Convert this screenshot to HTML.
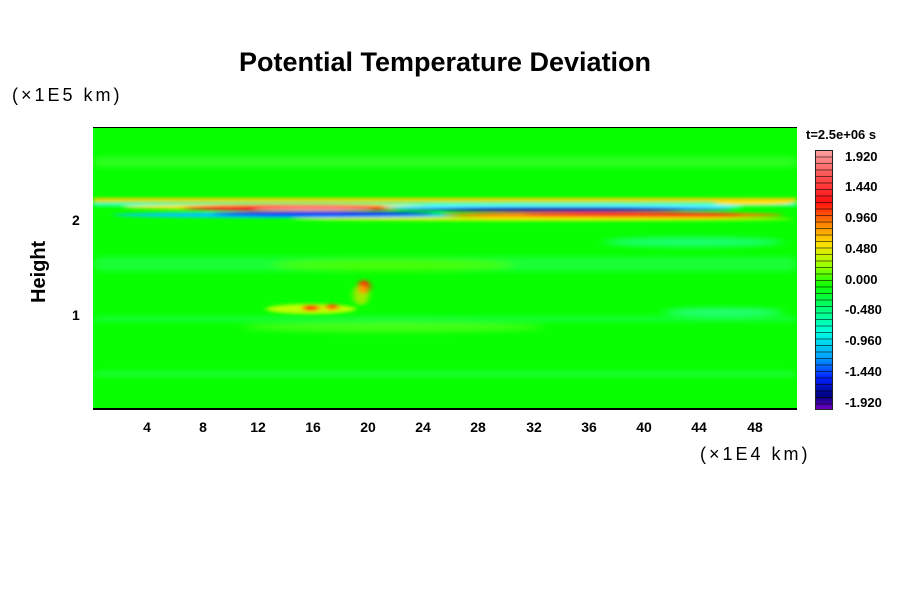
<!DOCTYPE html>
<html><head><style>
body{margin:0;background:#fff;width:900px;height:600px;position:relative;overflow:hidden;font-family:"Liberation Sans",Arial,sans-serif}
.t{position:absolute;font-weight:bold;color:#000}
.cb{position:absolute;left:815px;top:150px;width:18px;height:260px;border:1px solid #222;box-sizing:border-box;
background:repeating-linear-gradient(to bottom,transparent 0,transparent 5.5px,rgba(0,0,0,.55) 5.5px,rgba(0,0,0,.55) 6.5px),
linear-gradient(to bottom,#f9a0a0 0%,#ff4040 12%,#ff1010 20%,#ff8000 28%,#ffe000 36%,#a0ff00 44%,#10ff00 52%,#00ff80 62%,#00ffe0 70%,#00a0ff 80%,#0020ff 88%,#000080 95%,#7000c0 100%)}
.cl{position:absolute;left:845px;font-size:13px;font-weight:bold}
.xl{position:absolute;top:419px;font-size:14px;font-weight:bold;width:30px;margin-left:-15px;text-align:center}
.u{position:absolute;font-size:18px;letter-spacing:3px;color:#000}
</style></head><body>
<div class="t" style="left:0;width:890px;text-align:center;top:47px;font-size:27px">Potential Temperature Deviation</div>
<div class="u" style="left:12px;top:85px">(×1E5 km)</div>
<div class="u" style="left:700px;top:444px">(×1E4 km)</div>
<div class="t" style="font-size:20px;transform:rotate(-90deg);transform-origin:left top;top:303px;left:28px">Height</div>
<div class="t" style="left:72px;top:212px;font-size:14px">2</div>
<div class="t" style="left:72px;top:307px;font-size:14px">1</div>
<svg style="position:absolute;left:93px;top:127px" width="704" height="283">
<defs><filter id="b" x="-20%" y="-200%" width="140%" height="500%"><feGaussianBlur stdDeviation="3 1.5"/></filter>
<filter id="b2"><feGaussianBlur stdDeviation="6 3"/></filter></defs>
<rect width="704" height="283" fill="#08ff00"/>
<g filter="url(#b2)" opacity=".7">
<rect x="0" y="30" width="704" height="10" fill="#40ff30"/>
<rect x="0" y="130" width="704" height="14" fill="#20ff50"/>
<ellipse cx="300" cy="138" rx="120" ry="6" fill="#60ff10"/>
<ellipse cx="600" cy="115" rx="90" ry="5" fill="#20ffa0"/>
<ellipse cx="630" cy="185" rx="60" ry="4" fill="#30ffb0"/>
<rect x="0" y="190" width="704" height="4" fill="#20ff70"/>
<ellipse cx="300" cy="200" rx="150" ry="5" fill="#60ff20"/>
<rect x="0" y="245" width="704" height="4" fill="#30ff70"/>
</g>
<g filter="url(#b)">
<rect x="0" y="71" width="704" height="4" fill="#ffd000"/>
<rect x="0" y="76" width="704" height="3" fill="#30ffe0"/>
<ellipse cx="210" cy="80" rx="180" ry="3" fill="#ffe000"/>
<ellipse cx="200" cy="88" rx="180" ry="3" fill="#00c8ff"/>
<ellipse cx="200" cy="81" rx="110" ry="3" fill="#ff2020"/>
<ellipse cx="220" cy="82" rx="60" ry="2" fill="#ff9090"/>
<ellipse cx="230" cy="87" rx="110" ry="2.5" fill="#0030ff"/>
<ellipse cx="470" cy="80" rx="180" ry="3" fill="#60ffff"/>
<ellipse cx="470" cy="82" rx="170" ry="2" fill="#0050ff"/>
<ellipse cx="470" cy="83" rx="120" ry="2" fill="#000090"/>
<ellipse cx="520" cy="88" rx="170" ry="3" fill="#ff8000"/>
<ellipse cx="540" cy="88" rx="110" ry="2" fill="#ff1010"/>
<ellipse cx="450" cy="92" rx="250" ry="2" fill="#e0f000"/>
<ellipse cx="660" cy="76" rx="40" ry="2" fill="#ffe000"/>
</g>
<g filter="url(#b)">
<ellipse cx="218" cy="182" rx="45" ry="5" fill="#c0ff00"/>
<ellipse cx="218" cy="181" rx="9" ry="3" fill="#ff4000"/>
<ellipse cx="239" cy="180" rx="7" ry="3" fill="#ff6000"/>
<ellipse cx="271" cy="160" rx="6" ry="7" fill="#ff3000"/>
<ellipse cx="268" cy="168" rx="8" ry="10" fill="#ffe000" opacity=".6"/>
</g>
<rect x="0" y="281" width="704" height="2" fill="#000"/>
</svg>
<div style="position:absolute;left:93px;top:127px;width:704px;height:1px;background:#000"></div>
<div class="xl" style="left:147px">4</div><div class="xl" style="left:203px">8</div><div class="xl" style="left:258px">12</div>
<div class="xl" style="left:313px">16</div><div class="xl" style="left:368px">20</div><div class="xl" style="left:423px">24</div>
<div class="xl" style="left:478px">28</div><div class="xl" style="left:534px">32</div><div class="xl" style="left:589px">36</div>
<div class="xl" style="left:644px">40</div><div class="xl" style="left:699px">44</div><div class="xl" style="left:755px">48</div>
<div class="t" style="left:806px;top:127px;font-size:13px">t=2.5e+06 s</div>
<div class="cb"></div>
<div class="cl" style="top:149px">1.920</div><div class="cl" style="top:179px">1.440</div><div class="cl" style="top:210px">0.960</div>
<div class="cl" style="top:241px">0.480</div><div class="cl" style="top:272px">0.000</div><div class="cl" style="top:302px">-0.480</div>
<div class="cl" style="top:333px">-0.960</div><div class="cl" style="top:364px">-1.440</div><div class="cl" style="top:395px">-1.920</div>
</body></html>
